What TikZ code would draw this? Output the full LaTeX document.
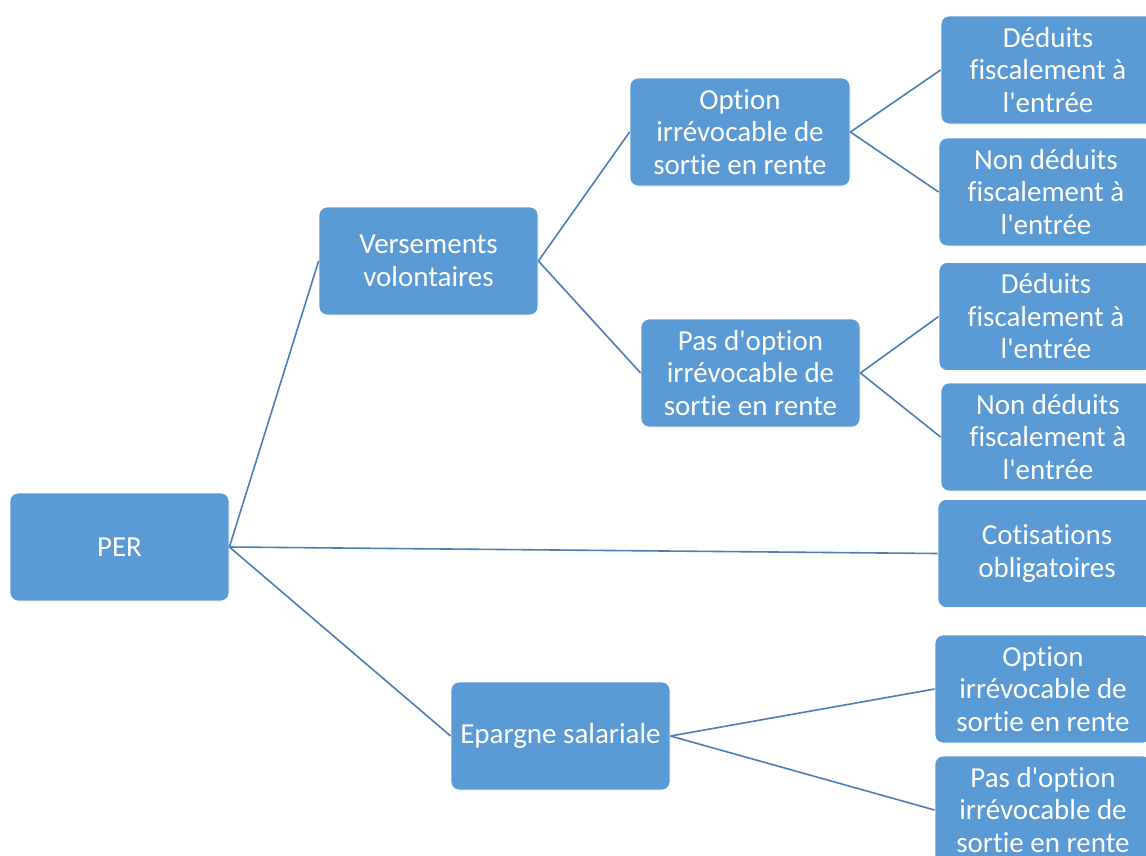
\documentclass[tikz,border=0pt]{standalone}
\usepackage{fontspec}
\setmainfont{Carlito}[Ligatures={TeXOff,NoCommon}]
\definecolor{boxfill}{HTML}{5B9BD5}
\definecolor{linecol}{HTML}{4A7EB5}
\begin{document}
\begin{tikzpicture}[x=1pt,y=-1pt,
  box/.style={rectangle, rounded corners=8pt, fill=boxfill, draw=white, line width=0.8pt,
    text=white, align=center, minimum width=219pt, minimum height=108pt,
    inner sep=0pt, font=\fontsize{29}{32.5}\selectfont},
  link/.style={draw=linecol, line width=1.6pt}]
\useasboundingbox (0,0) rectangle (1146,855);
\clip (0,0) rectangle (1146,855);
\node[box] (per) at (119.5,547) {PER};
\node[box] (vv) at (428.5,261) {Versements\\volontaires};
\node[box, minimum width=220pt] (o1) at (740,132) {Option\\irrévocable de\\sortie en rente};
\node[box] (p1) at (750.5,373) {Pas d'option\\irrévocable de\\sortie en rente};
\node[box, minimum width=214pt] (d1) at (1048,70) {Déduits\\fiscalement à\\l'entrée};
\node[box, minimum width=214pt] (n1) at (1046,192) {Non déduits\\fiscalement à\\l'entrée};
\node[box, minimum width=214pt] (d2) at (1046,316.5) {Déduits\\fiscalement à\\l'entrée};
\node[box, minimum width=214pt] (n2) at (1048,437) {Non déduits\\fiscalement à\\l'entrée};
\node[box, minimum width=218pt] (cot) at (1047,553.5) {Cotisations\\obligatoires};
\node[box] (eps) at (560.5,736) {Epargne salariale};
\node[box, minimum width=216pt] (ob) at (1043,689) {Option\\irrévocable de\\sortie en rente};
\node[box, minimum width=216pt] (pb) at (1043,810) {Pas d'option\\irrévocable de\\sortie en rente};
\draw[link] (per.east) -- (vv.west);
\draw[link] (per.east) -- (cot.west);
\draw[link] (per.east) -- (eps.west);
\draw[link] (vv.east) -- (o1.west);
\draw[link] (vv.east) -- (p1.west);
\draw[link] (o1.east) -- (d1.west);
\draw[link] (o1.east) -- (n1.west);
\draw[link] (p1.east) -- (d2.west);
\draw[link] (p1.east) -- (n2.west);
\draw[link] (eps.east) -- (ob.west);
\draw[link] (eps.east) -- (pb.west);
\end{tikzpicture}
\end{document}
